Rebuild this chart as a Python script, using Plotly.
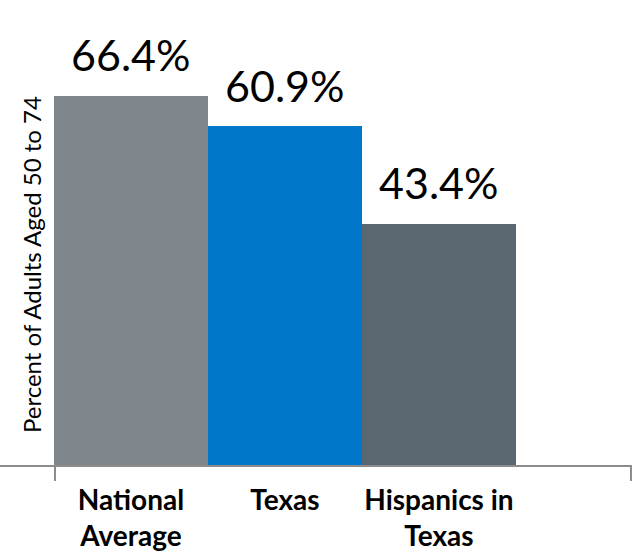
import plotly.graph_objects as go

categories = ["National<br>Average", "Texas", "Hispanics in<br>Texas"]
values = [66.4, 60.9, 43.4]
value_labels = ["66.4%", "60.9%", "43.4%"]
colors = ["#7F878D", "#0077C8", "#5B6770"]
y_title = "Percent of Adults Aged 50 to 74"

fig = go.Figure()
fig.add_trace(go.Bar(
    x=categories, y=values, marker=dict(color=colors, line=dict(width=0)),
    hoverinfo="skip",
))

for c, v, t in zip(categories, values, value_labels):
    fig.add_annotation(x=c, y=v, text=t, showarrow=False, yanchor="middle",
                       yshift=41, font=dict(family="Lato", size=43, color="#000000"))

fig.add_annotation(xref="paper", yref="paper", x=31/631, y=1-265/465, text=y_title,
                   textangle=-90, showarrow=False, xanchor="center", yanchor="middle",
                   font=dict(family="Lato", size=24, color="#000000"))

# outer tick marks of the category axis
for xp in [55/631, 1.0]:
    fig.add_shape(type="line", xref="paper", yref="paper", x0=xp, x1=xp, y0=0, y1=-16/465,
                  line=dict(color="#8C8C8C", width=2))

fig.update_layout(
    width=637, height=554,
    margin=dict(l=0, r=6, t=0, b=89),
    paper_bgcolor="white", plot_bgcolor="white",
    bargap=0, showlegend=False,
    xaxis=dict(range=[-0.8506, 3.247], showline=True, linecolor="#8C8C8C", linewidth=2,
               ticks="", showgrid=False, zeroline=False,
               tickfont=dict(family="Lato", size=28, color="#000000", weight="bold"),
               ticklabelstandoff=9),
    yaxis=dict(range=[0, 83.6], visible=False, showgrid=False, zeroline=False),
)

fig.write_html("out.html", config={"displayModeBar": False},
               post_script="document.body.style.margin='0';document.body.style.padding='0';")
